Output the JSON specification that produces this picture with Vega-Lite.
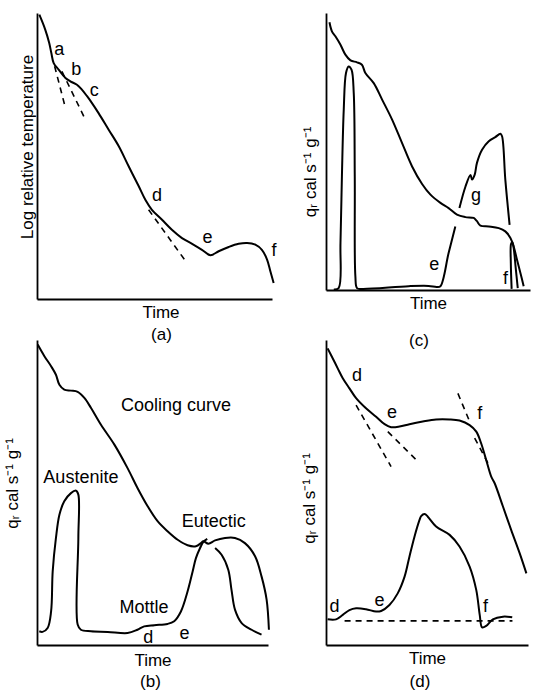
{
"$schema": "https://vega.github.io/schema/vega-lite/v6.json",
"background": "white",
"padding": {"left": 3, "top": 10, "right": 0, "bottom": 0},
"datasets": {
"solid": [
{"p":"a","s":1,"x":1.0,"y":99.4},{"p":"a","s":1,"x":3.5,"y":94.2},{"p":"a","s":1,"x":5.2,"y":89.5},{"p":"a","s":1,"x":6.1,"y":86.0},{"p":"a","s":1,"x":7.1,"y":82.5},{"p":"a","s":1,"x":9.2,"y":80.2},{"p":"a","s":1,"x":12.1,"y":77.3},{"p":"a","s":1,"x":14.2,"y":76.1},{"p":"a","s":1,"x":17.0,"y":74.9},{"p":"a","s":1,"x":19.1,"y":73.2},{"p":"a","s":1,"x":21.3,"y":70.9},{"p":"a","s":1,"x":23.4,"y":68.5},{"p":"a","s":1,"x":26.2,"y":65.0},{"p":"a","s":1,"x":30.5,"y":59.2},{"p":"a","s":1,"x":34.8,"y":53.4},{"p":"a","s":1,"x":39.0,"y":46.4},{"p":"a","s":1,"x":43.3,"y":39.4},{"p":"a","s":1,"x":46.1,"y":34.7},{"p":"a","s":1,"x":48.9,"y":31.2},{"p":"a","s":1,"x":53.2,"y":27.7},{"p":"a","s":1,"x":57.4,"y":24.2},{"p":"a","s":1,"x":61.7,"y":21.3},{"p":"a","s":1,"x":66.0,"y":19.3},{"p":"a","s":1,"x":70.2,"y":17.2},{"p":"a","s":1,"x":73.8,"y":15.3},{"p":"a","s":1,"x":77.3,"y":16.7},{"p":"a","s":1,"x":81.6,"y":18.2},{"p":"a","s":1,"x":85.8,"y":19.3},{"p":"a","s":1,"x":89.4,"y":19.6},{"p":"a","s":1,"x":92.9,"y":19.0},{"p":"a","s":1,"x":95.7,"y":17.2},{"p":"a","s":1,"x":97.9,"y":13.8},{"p":"a","s":1,"x":99.3,"y":9.7},{"p":"a","s":1,"x":100.7,"y":5.6},

{"p":"c","s":1,"x":1.7,"y":97.7},{"p":"c","s":1,"x":2.9,"y":94.4},{"p":"c","s":1,"x":4.6,"y":92.6},{"p":"c","s":1,"x":7.1,"y":89.5},{"p":"c","s":1,"x":9.5,"y":85.9},{"p":"c","s":1,"x":12.0,"y":83.8},{"p":"c","s":1,"x":15.2,"y":83.1},{"p":"c","s":1,"x":17.6,"y":82.2},{"p":"c","s":1,"x":19.3,"y":79.2},{"p":"c","s":1,"x":23.4,"y":75.5},{"p":"c","s":1,"x":27.5,"y":69.5},{"p":"c","s":1,"x":32.4,"y":62.2},{"p":"c","s":1,"x":37.3,"y":53.6},{"p":"c","s":1,"x":42.2,"y":45.1},{"p":"c","s":1,"x":47.1,"y":38.7},{"p":"c","s":1,"x":51.2,"y":34.8},{"p":"c","s":1,"x":56.1,"y":31.8},{"p":"c","s":1,"x":60.1,"y":29.9},{"p":"c","s":1,"x":64.2,"y":27.5},{"p":"c","s":1,"x":68.3,"y":26.6},{"p":"c","s":1,"x":72.4,"y":26.3},{"p":"c","s":1,"x":73.9,"y":25.2},{"p":"c","s":1,"x":75.7,"y":23.5},{"p":"c","s":1,"x":79.8,"y":23.2},{"p":"c","s":1,"x":84.7,"y":22.6},{"p":"c","s":1,"x":87.9,"y":21.4},{"p":"c","s":1,"x":90.4,"y":19.0},{"p":"c","s":1,"x":92.0,"y":15.9},{"p":"c","s":1,"x":93.6,"y":11.1},{"p":"c","s":1,"x":95.3,"y":6.2},{"p":"c","s":1,"x":96.9,"y":1.4},

{"p":"c","s":2,"x":3.8,"y":0.2},{"p":"c","s":2,"x":6.2,"y":0.7},{"p":"c","s":2,"x":7.1,"y":17.2},{"p":"c","s":2,"x":7.8,"y":41.5},{"p":"c","s":2,"x":8.7,"y":65.8},{"p":"c","s":2,"x":9.8,"y":79.2},{"p":"c","s":2,"x":11.1,"y":81.6},{"p":"c","s":2,"x":12.5,"y":80.4},{"p":"c","s":2,"x":13.6,"y":71.9},{"p":"c","s":2,"x":14.1,"y":41.5},{"p":"c","s":2,"x":14.4,"y":5.0},{"p":"c","s":2,"x":15.2,"y":0.7},{"p":"c","s":2,"x":17.6,"y":0.4},{"p":"c","s":2,"x":40.5,"y":1.4},{"p":"c","s":2,"x":50.3,"y":1.5},{"p":"c","s":2,"x":54.3,"y":1.1},{"p":"c","s":2,"x":56.1,"y":1.4},{"p":"c","s":2,"x":60.1,"y":13.5},{"p":"c","s":2,"x":63.4,"y":23.2},

{"p":"c","s":3,"x":65.4,"y":29.9},{"p":"c","s":3,"x":68.3,"y":37.6},{"p":"c","s":3,"x":70.8,"y":42.0},{"p":"c","s":3,"x":71.6,"y":40.3},{"p":"c","s":3,"x":72.9,"y":42.1},{"p":"c","s":3,"x":74.0,"y":46.4},{"p":"c","s":3,"x":76.5,"y":51.2},{"p":"c","s":3,"x":79.8,"y":54.3},{"p":"c","s":3,"x":83.0,"y":55.8},{"p":"c","s":3,"x":85.5,"y":57.0},{"p":"c","s":3,"x":86.3,"y":56.1},{"p":"c","s":3,"x":87.9,"y":40.3},{"p":"c","s":3,"x":90.0,"y":23.8},

{"p":"c","s":4,"x":91.0,"y":0.4},{"p":"c","s":4,"x":90.6,"y":9.9},{"p":"c","s":4,"x":90.7,"y":16.8},{"p":"c","s":4,"x":91.3,"y":17.5},{"p":"c","s":4,"x":92.0,"y":15.3},{"p":"c","s":4,"x":93.0,"y":8.0},{"p":"c","s":4,"x":94.0,"y":0.7},

{"p":"b","s":1,"x":0.3,"y":98.5},{"p":"b","s":1,"x":3.2,"y":94.7},{"p":"b","s":1,"x":6.1,"y":91.4},{"p":"b","s":1,"x":8.2,"y":88.6},{"p":"b","s":1,"x":9.7,"y":85.3},{"p":"b","s":1,"x":11.8,"y":83.7},{"p":"b","s":1,"x":14.7,"y":83.4},{"p":"b","s":1,"x":17.6,"y":83.0},{"p":"b","s":1,"x":20.5,"y":81.0},{"p":"b","s":1,"x":23.4,"y":77.7},{"p":"b","s":1,"x":27.7,"y":72.2},{"p":"b","s":1,"x":33.5,"y":65.7},{"p":"b","s":1,"x":39.2,"y":58.0},{"p":"b","s":1,"x":43.5,"y":51.5},{"p":"b","s":1,"x":47.9,"y":45.5},{"p":"b","s":1,"x":52.2,"y":40.6},{"p":"b","s":1,"x":56.5,"y":37.3},{"p":"b","s":1,"x":60.9,"y":34.5},{"p":"b","s":1,"x":65.2,"y":32.7},{"p":"b","s":1,"x":68.8,"y":32.4},{"p":"b","s":1,"x":71.0,"y":33.4},{"p":"b","s":1,"x":72.0,"y":34.0},{"p":"b","s":1,"x":74.2,"y":33.2},{"p":"b","s":1,"x":77.1,"y":34.3},{"p":"b","s":1,"x":81.4,"y":35.1},{"p":"b","s":1,"x":85.7,"y":35.1},{"p":"b","s":1,"x":90.0,"y":33.4},{"p":"b","s":1,"x":94.4,"y":29.1},{"p":"b","s":1,"x":97.2,"y":22.5},{"p":"b","s":1,"x":99.4,"y":14.9},{"p":"b","s":1,"x":100.4,"y":5.0},

{"p":"b","s":2,"x":1.0,"y":4.5},{"p":"b","s":2,"x":2.4,"y":4.3},{"p":"b","s":2,"x":4.6,"y":5.6},{"p":"b","s":2,"x":6.1,"y":11.0},{"p":"b","s":2,"x":6.8,"y":24.2},{"p":"b","s":2,"x":8.2,"y":35.1},{"p":"b","s":2,"x":9.7,"y":42.7},{"p":"b","s":2,"x":11.8,"y":47.1},{"p":"b","s":2,"x":14.7,"y":49.8},{"p":"b","s":2,"x":16.9,"y":50.6},{"p":"b","s":2,"x":17.9,"y":49.3},{"p":"b","s":2,"x":17.9,"y":35.1},{"p":"b","s":2,"x":17.6,"y":6.7},{"p":"b","s":2,"x":19.0,"y":5.0},{"p":"b","s":2,"x":23.4,"y":4.5},{"p":"b","s":2,"x":30.6,"y":4.3},{"p":"b","s":2,"x":39.2,"y":3.9},{"p":"b","s":2,"x":43.5,"y":5.0},{"p":"b","s":2,"x":46.4,"y":6.1},{"p":"b","s":2,"x":50.8,"y":6.5},{"p":"b","s":2,"x":56.5,"y":6.9},{"p":"b","s":2,"x":59.4,"y":7.8},{"p":"b","s":2,"x":62.3,"y":11.0},{"p":"b","s":2,"x":65.2,"y":17.6},{"p":"b","s":2,"x":67.4,"y":24.2},{"p":"b","s":2,"x":68.8,"y":28.5},{"p":"b","s":2,"x":70.6,"y":31.8},{"p":"b","s":2,"x":72.0,"y":33.8},{"p":"b","s":2,"x":73.7,"y":34.8},

{"p":"b","s":3,"x":77.1,"y":31.8},{"p":"b","s":3,"x":79.9,"y":29.6},{"p":"b","s":3,"x":82.8,"y":24.7},{"p":"b","s":3,"x":84.2,"y":18.1},{"p":"b","s":3,"x":85.7,"y":11.6},{"p":"b","s":3,"x":88.6,"y":7.2},{"p":"b","s":3,"x":92.9,"y":5.0},{"p":"b","s":3,"x":97.2,"y":3.4},

{"p":"d","s":1,"x":0.8,"y":99.4},{"p":"d","s":1,"x":3.3,"y":96.1},{"p":"d","s":1,"x":5.8,"y":92.7},{"p":"d","s":1,"x":8.3,"y":89.4},{"p":"d","s":1,"x":11.6,"y":86.0},{"p":"d","s":1,"x":14.9,"y":82.7},{"p":"d","s":1,"x":19.8,"y":79.3},{"p":"d","s":1,"x":24.8,"y":76.5},{"p":"d","s":1,"x":29.0,"y":74.0},{"p":"d","s":1,"x":32.2,"y":73.0},{"p":"d","s":1,"x":36.4,"y":73.2},{"p":"d","s":1,"x":41.3,"y":74.0},{"p":"d","s":1,"x":47.9,"y":74.9},{"p":"d","s":1,"x":54.5,"y":75.6},{"p":"d","s":1,"x":61.2,"y":75.6},{"p":"d","s":1,"x":66.1,"y":75.2},{"p":"d","s":1,"x":71.1,"y":73.7},{"p":"d","s":1,"x":74.4,"y":71.5},{"p":"d","s":1,"x":76.8,"y":67.6},{"p":"d","s":1,"x":79.3,"y":62.0},{"p":"d","s":1,"x":81.8,"y":56.4},{"p":"d","s":1,"x":83.5,"y":54.2},{"p":"d","s":1,"x":87.6,"y":46.4},{"p":"d","s":1,"x":91.7,"y":38.5},{"p":"d","s":1,"x":95.9,"y":30.7},{"p":"d","s":1,"x":99.2,"y":24.0},

{"p":"d","s":2,"x":0.8,"y":8.6},{"p":"d","s":2,"x":5.0,"y":8.6},{"p":"d","s":2,"x":8.3,"y":10.1},{"p":"d","s":2,"x":11.6,"y":11.7},{"p":"d","s":2,"x":14.9,"y":12.3},{"p":"d","s":2,"x":19.8,"y":12.0},{"p":"d","s":2,"x":24.8,"y":11.2},{"p":"d","s":2,"x":27.3,"y":11.4},{"p":"d","s":2,"x":31.4,"y":13.4},{"p":"d","s":2,"x":35.5,"y":17.3},{"p":"d","s":2,"x":38.9,"y":22.9},{"p":"d","s":2,"x":41.3,"y":29.6},{"p":"d","s":2,"x":43.8,"y":36.3},{"p":"d","s":2,"x":46.3,"y":41.9},{"p":"d","s":2,"x":47.1,"y":43.2},{"p":"d","s":2,"x":48.8,"y":43.9},{"p":"d","s":2,"x":50.4,"y":43.0},{"p":"d","s":2,"x":54.5,"y":39.7},{"p":"d","s":2,"x":61.2,"y":36.9},{"p":"d","s":2,"x":66.1,"y":33.0},{"p":"d","s":2,"x":71.1,"y":26.3},{"p":"d","s":2,"x":74.4,"y":18.4},{"p":"d","s":2,"x":76.1,"y":10.1},{"p":"d","s":2,"x":77.3,"y":5.9},{"p":"d","s":2,"x":79.3,"y":6.4},{"p":"d","s":2,"x":82.6,"y":8.6},{"p":"d","s":2,"x":87.6,"y":9.5},{"p":"d","s":2,"x":92.2,"y":9.3}
],
"dash": [
{"p":"a","s":1,"x":7.5,"y":81.4},{"p":"a","s":1,"x":12.1,"y":66.8},
{"p":"a","s":2,"x":10.6,"y":79.6},{"p":"a","s":2,"x":20.6,"y":62.7},
{"p":"a","s":3,"x":47.5,"y":31.2},{"p":"a","s":3,"x":63.8,"y":12.6},
{"p":"d","s":1,"x":14.9,"y":80.4},{"p":"d","s":1,"x":32.2,"y":59.8},
{"p":"d","s":2,"x":30.6,"y":71.5},{"p":"d","s":2,"x":45.5,"y":61.5},
{"p":"d","s":3,"x":65.3,"y":84.3},{"p":"d","s":3,"x":71.1,"y":74.9},
{"p":"d","s":4,"x":73.6,"y":69.3},{"p":"d","s":4,"x":80.2,"y":60.9},
{"p":"d","s":5,"x":9.2,"y":8.1},{"p":"d","s":5,"x":92.3,"y":8.1}
],
"lab": [
{"p":"a","t":"a","x":9.5,"y":87.2},{"p":"a","t":"b","x":16.7,"y":80.2},{"p":"a","t":"c","x":24.4,"y":72.8},{"p":"a","t":"d","x":51.1,"y":35.9},{"p":"a","t":"e","x":72.6,"y":21.2},{"p":"a","t":"f","x":100.9,"y":16.7},
{"p":"c","t":"e","x":53.1,"y":9.2},{"p":"c","t":"f","x":88.0,"y":4.0},{"p":"c","t":"g","x":73.5,"y":34.2},
{"p":"b","t":"Cooling curve","x":60.2,"y":78.3},{"p":"b","t":"Austenite","x":19.0,"y":54.8},{"p":"b","t":"Eutectic","x":76.5,"y":40.3},{"p":"b","t":"Mottle","x":46.3,"y":12.1},{"p":"b","t":"d","x":48.2,"y":2.3},{"p":"b","t":"e","x":63.9,"y":3.6},
{"p":"d","t":"d","x":15.4,"y":90.3},{"p":"d","t":"e","x":32.7,"y":77.9},{"p":"d","t":"f","x":76.1,"y":77.4},{"p":"d","t":"d","x":4.2,"y":12.6},{"p":"d","t":"e","x":26.5,"y":14.9},{"p":"d","t":"f","x":79.0,"y":12.6}
]
},
"columns": 2,
"spacing": {"row": 41, "column": 54},
"bounds": "flush",
"concat": [
{
"width": 235, "height": 286,
"title": {"text": "(a)", "orient": "bottom", "frame": "group", "offset": 7, "dx": 7},
"encoding": {
  "x": {"field": "x", "type": "quantitative", "scale": {"domain": [0, 100], "nice": false, "zero": false}, "axis": {"title": "Time", "titleX": 123.5, "titlePadding": 5}},
  "y": {"field": "y", "type": "quantitative", "scale": {"domain": [0, 100], "nice": false, "zero": false}, "axis": {"title": "Log relative temperature", "titleY": 133.5, "titlePadding": 1}}
},
"layer": [
{"data": {"name": "solid"}, "transform": [{"filter": "datum.p === 'a'"}],
 "mark": {"type": "line", "interpolate": "catmull-rom", "color": "black", "strokeWidth": 2},
 "encoding": {"detail": {"field": "s"}, "order": {"value": null}}},
{"data": {"name": "dash"}, "transform": [{"filter": "datum.p === 'a'"}],
 "mark": {"type": "line", "color": "black", "strokeWidth": 1.6, "strokeDash": [6, 5]},
 "encoding": {"detail": {"field": "s"}, "order": {"value": null}}},
{"data": {"name": "lab"}, "transform": [{"filter": "datum.p === 'a'"}],
 "mark": {"type": "text", "align": "center", "baseline": "middle"},
 "encoding": {"text": {"field": "t"}}}
]},
{
"width": 204, "height": 277,
"title": {"text": "(c)", "orient": "bottom", "frame": "group", "offset": 22, "dx": -9},
"encoding": {
  "x": {"field": "x", "type": "quantitative", "scale": {"domain": [0, 100], "nice": false, "zero": false}, "axis": {"title": "Time", "titlePadding": 5}},
  "y": {"field": "y", "type": "quantitative", "scale": {"domain": [0, 101.1], "nice": false, "zero": false}, "axis": {"title": "qᵣ cal s⁻¹ g⁻¹", "titleY": 158.5, "titlePadding": 7}}
},
"layer": [
{"data": {"name": "solid"}, "transform": [{"filter": "datum.p === 'c'"}],
 "mark": {"type": "line", "interpolate": "catmull-rom", "color": "black", "strokeWidth": 2},
 "encoding": {"detail": {"field": "s"}, "order": {"value": null}}},
{"data": {"name": "lab"}, "transform": [{"filter": "datum.p === 'c'"}],
 "mark": {"type": "text", "align": "center", "baseline": "middle"},
 "encoding": {"text": {"field": "t"}}}
]},
{
"width": 231, "height": 305,
"title": {"text": "(b)", "orient": "bottom", "frame": "group", "offset": 6, "dx": -2},
"encoding": {
  "x": {"field": "x", "type": "quantitative", "scale": {"domain": [0, 100], "nice": false, "zero": false}, "axis": {"title": "Time", "titlePadding": 7}},
  "y": {"field": "y", "type": "quantitative", "scale": {"domain": [0, 100], "nice": false, "zero": false}, "axis": {"title": "qᵣ cal s⁻¹ g⁻¹", "titleY": 143, "titlePadding": 16}}
},
"layer": [
{"data": {"name": "solid"}, "transform": [{"filter": "datum.p === 'b'"}],
 "mark": {"type": "line", "interpolate": "catmull-rom", "color": "black", "strokeWidth": 2},
 "encoding": {"detail": {"field": "s"}, "order": {"value": null}}},
{"data": {"name": "lab"}, "transform": [{"filter": "datum.p === 'b'"}],
 "mark": {"type": "text", "align": "center", "baseline": "middle"},
 "encoding": {"text": {"field": "t"}}}
]},
{
"width": 202, "height": 305,
"title": {"text": "(d)", "orient": "bottom", "frame": "group", "offset": 8, "dx": -7},
"encoding": {
  "x": {"field": "x", "type": "quantitative", "scale": {"domain": [0, 100], "nice": false, "zero": false}, "axis": {"title": "Time", "titlePadding": 5}},
  "y": {"field": "y", "type": "quantitative", "scale": {"domain": [0, 102.2], "nice": false, "zero": false}, "axis": {"title": "qᵣ cal s⁻¹ g⁻¹", "titleY": 158, "titlePadding": 8}}
},
"layer": [
{"data": {"name": "solid"}, "transform": [{"filter": "datum.p === 'd'"}],
 "mark": {"type": "line", "interpolate": "catmull-rom", "color": "black", "strokeWidth": 2},
 "encoding": {"detail": {"field": "s"}, "order": {"value": null}}},
{"data": {"name": "dash"}, "transform": [{"filter": "datum.p === 'd'"}],
 "mark": {"type": "line", "color": "black", "strokeWidth": 1.6, "strokeDash": [6, 5]},
 "encoding": {"detail": {"field": "s"}, "order": {"value": null}}},
{"data": {"name": "lab"}, "transform": [{"filter": "datum.p === 'd'"}],
 "mark": {"type": "text", "align": "center", "baseline": "middle"},
 "encoding": {"text": {"field": "t"}}}
]}
],
"config": {
 "view": {"stroke": null},
 "font": "Liberation Sans",
 "axis": {"domainColor": "black", "domainWidth": 1.8, "ticks": false, "labels": false, "grid": false, "titleFont": "Liberation Sans", "titleFontSize": 17, "titleFontWeight": "normal", "titleColor": "black"},
 "title": {"font": "Liberation Sans", "fontSize": 17, "fontWeight": "normal", "color": "black"},
 "text": {"font": "Liberation Sans", "fontSize": 18, "color": "black"}
}
}
